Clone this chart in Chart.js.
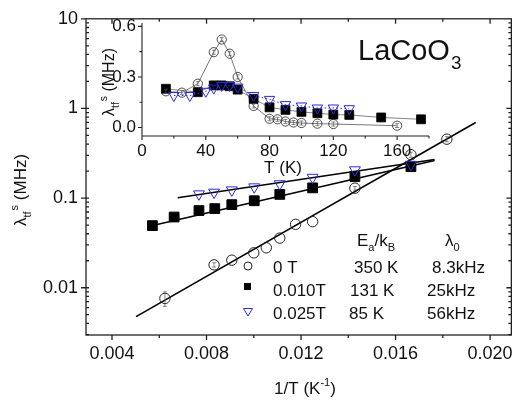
<!DOCTYPE html>
<html>
<head>
<meta charset="utf-8">
<script src="https://cdn.jsdelivr.net/npm/chart.js@4.4.1/dist/chart.umd.min.js"></script>
<style>
  body { margin: 0; background: #fff; }
  #wrap { position: relative; width: 521px; height: 407px; }
  #wrap canvas { position: absolute; left: 0; top: 0; }
</style>
</head>
<body>
<div id="wrap">
  <canvas id="main" width="521" height="407"></canvas>
  <canvas id="inset" width="521" height="407"></canvas>
</div>
<script>
// main plot: lambda vs 1/T (log)
let circX = [0.00624, 0.00832, 0.00907, 0.0100, 0.01053, 0.0111, 0.01177, 0.01249, 0.01428, 0.01665, 0.01817];
let circY = [0.0076, 0.018, 0.0203, 0.0245, 0.0279, 0.0358, 0.051, 0.0546, 0.129, 0.305, 0.454];
let circErr = [0.0014, 0.001, 0, 0, 0, 0, 0, 0, 0.006, 0.02, 0.03];
let sqX = [0.00571, 0.00663, 0.00768, 0.00835, 0.00907, 0.01002, 0.0111, 0.01249, 0.01428, 0.01665];
let sqY = [0.0493, 0.0615, 0.0726, 0.0763, 0.0845, 0.0934, 0.11, 0.13, 0.174, 0.224];
let triX = [0.00768, 0.00832, 0.00907, 0.01002, 0.0111, 0.01249, 0.01428, 0.01665];
let triY = [0.111, 0.116, 0.123, 0.133, 0.144, 0.17, 0.206, 0.237];

// Arrhenius fit lines (end points)
let fitCircX = [0.00502, 0.01939];
let fitCircY = [0.00476, 0.697];
let fitSqX = [0.00554, 0.01765];
let fitSqY = [0.0481, 0.262];
let fitTriX = [0.00678, 0.01765];
let fitTriY = [0.1008, 0.27];

let xTicks = [0.004, 0.008, 0.012, 0.016, 0.020];
let yTicks = [0.01, 0.1, 1, 10];

// inset: lambda vs T
let inCircT = [15, 25, 35, 45, 50, 55, 60, 70, 80, 85, 90, 95, 100, 110, 120, 160];
let inCircV = [0.215, 0.207, 0.26, 0.447, 0.522, 0.438, 0.30, 0.128, 0.052, 0.049, 0.036, 0.03, 0.027, 0.023, 0.021, 0.011];
let inSqT = [15, 35, 45, 50, 55, 60, 70, 80, 90, 100, 110, 120, 130, 150, 175];
let inSqV = [0.23, 0.21, 0.25, 0.25, 0.245, 0.225, 0.17, 0.12, 0.105, 0.093, 0.085, 0.077, 0.075, 0.06, 0.049];
let inTriT = [20, 30, 40, 45, 50, 55, 60, 70, 80, 90, 100, 110, 120, 130];
let inTriV = [0.19, 0.19, 0.215, 0.234, 0.25, 0.25, 0.24, 0.19, 0.167, 0.136, 0.128, 0.116, 0.116, 0.112];
let inXTicks = [0, 40, 80, 120, 160];
let inYTicks = [0, 0.3, 0.6];

const FONT = "'Liberation Sans', Arial, sans-serif";
const BLUE = "#2b2be0";
const INK = "#111";
Chart.defaults.font.family = FONT;

function pts(xs, ys) {
    return xs.map((x, i) => ({ x: x, y: ys[i] }));
}

/* ERROR BARS */
const errorBars = {
    id: "errorBars",
    afterDatasetsDraw(chart) {
        let ctx = chart.ctx;
        chart.data.datasets.forEach((ds, i) => {
            if (!ds.yErr) return;
            let meta = chart.getDatasetMeta(i);
            let ys = chart.scales[meta.yAxisID];
            ctx.save();
            ctx.strokeStyle = "#555";
            ctx.lineWidth = 0.7;
            meta.data.forEach((p, j) => {
                let e = ds.yErr[j];
                if (!e) return;
                let v = ds.data[j].y;
                let lo = Math.max(v - e, v * 0.05);
                let y1 = ys.getPixelForValue(v + e), y2 = ys.getPixelForValue(lo);
                ctx.beginPath();
                ctx.moveTo(p.x, y1); ctx.lineTo(p.x, y2);
                ctx.moveTo(p.x - 2, y1); ctx.lineTo(p.x + 2, y1);
                ctx.moveTo(p.x - 2, y2); ctx.lineTo(p.x + 2, y2);
                ctx.stroke();
            });
            ctx.restore();
        });
    }
};

/* helpers for text with sub/superscripts */
function richText(ctx, parts, x, y, size, align) {
    // parts: [text, kind, gap] kind: '' normal, 'sub', 'sup'
    let w = 0;
    parts.forEach(p => {
        ctx.font = (p[1] ? size * 0.65 : size) + "px " + FONT;
        w += ctx.measureText(p[0]).width + (p[2] || 0);
    });
    let cx = align === "center" ? x - w / 2 : x;
    ctx.textAlign = "left";
    ctx.textBaseline = "alphabetic";
    parts.forEach(p => {
        let s = p[1] ? size * 0.65 : size;
        ctx.font = s + "px " + FONT;
        let dy = p[1] === "sub" ? size * 0.3 : (p[1] === "sup" ? -size * 0.45 : 0);
        ctx.fillText(p[0], cx + (p[2] || 0), y + dy);
        cx += ctx.measureText(p[0]).width + (p[2] || 0);
    });
}

function tick(ctx, x1, y1, x2, y2) {
    ctx.moveTo(x1, y1); ctx.lineTo(x2, y2);
}

/* MAIN FRAME, TICKS, LABELS */
const mainDecor = {
    id: "mainDecor",
    afterDraw(chart) {
        let ctx = chart.ctx, a = chart.chartArea;
        let xs = chart.scales.x, ys = chart.scales.y;
        ctx.save();
        ctx.strokeStyle = "#222";
        ctx.lineWidth = 1.3;
        ctx.strokeRect(a.left, a.top, a.right - a.left, a.bottom - a.top);
        ctx.beginPath();
        for (let v = 0.004; v <= 0.0201; v += 0.002) {
            let px = xs.getPixelForValue(v);
            let major = Math.abs((v / 0.004) - Math.round(v / 0.004)) < 1e-6;
            let len = major ? 5 : 3;
            tick(ctx, px, a.bottom, px, a.bottom + len);
            tick(ctx, px, a.top, px, a.top + len);
        }
        for (let d = -3; d <= 0; d++) {
            for (let m = 1; m <= 9; m++) {
                let v = m * Math.pow(10, d);
                if (v < ys.min || v > ys.max) continue;
                let py = ys.getPixelForValue(v);
                if (m === 1) {
                    tick(ctx, a.left - 5, py, a.left + 3, py);
                    tick(ctx, a.right, py, a.right - 5, py);
                } else {
                    tick(ctx, a.left, py, a.left + 3, py);
                    tick(ctx, a.right, py, a.right - 3, py);
                }
            }
        }
        let py10 = ys.getPixelForValue(10);
        tick(ctx, a.left - 5, py10, a.left, py10);
        ctx.stroke();

        ctx.fillStyle = INK;
        // axis titles
        richText(ctx, [["1/T (K", ""], ["-1", "sup"], [")", ""]], 305, 394, 17, "center");
        ctx.save();
        ctx.translate(26, 190);
        ctx.rotate(-Math.PI / 2);
        richText(ctx, [["λ", ""], ["tf", "sub"], ["s", "sup", 1], [" (MHz)", ""]], 0, 0, 17, "center");
        ctx.restore();

        // compound label
        richText(ctx, [["LaCoO", ""], ["3", "sub", 1]], 358, 60, 29, "left");

        // fit table
        richText(ctx, [["E", ""], ["a", "sub"], ["/k", ""], ["B", "sub"]], 357, 246, 17, "left");
        richText(ctx, [["λ", ""], ["0", "sub"]], 445, 246, 17, "left");
        let rows = [["0 T", "350 K", "8.3kHz"], ["0.010T", "131 K", "25kHz"], ["0.025T", "85 K", "56kHz"]];
        let rowY = [273, 296, 319];
        let colX = [[273, 354, 432], [273, 350, 427], [273, 349, 427]];
        ctx.font = "17px " + FONT;
        rows.forEach((r, i) => {
            r.forEach((t, k) => ctx.fillText(t, colX[i][k], rowY[i]));
        });

        // legend symbols
        ctx.lineWidth = 1;
        ctx.strokeStyle = "#222";
        ctx.beginPath();
        ctx.arc(248, 266, 4, 0, Math.PI * 2);
        ctx.stroke();
        ctx.fillStyle = "#000";
        ctx.fillRect(244, 283, 7, 7);
        ctx.strokeStyle = BLUE;
        ctx.beginPath();
        ctx.moveTo(243.5, 308.5); ctx.lineTo(252.5, 308.5); ctx.lineTo(248, 316); ctx.closePath();
        ctx.stroke();
        ctx.restore();
    }
};

/* INSET AXES */
const insetDecor = {
    id: "insetDecor",
    afterDraw(chart) {
        let ctx = chart.ctx, a = chart.chartArea;
        let xs = chart.scales.x, ys = chart.scales.y;
        ctx.save();
        ctx.strokeStyle = "#222";
        ctx.lineWidth = 1.1;
        ctx.beginPath();
        tick(ctx, a.left, a.top, a.left, a.bottom);
        tick(ctx, a.left, a.bottom, a.right, a.bottom);
        for (let v = 0; v <= 180; v += 20) {
            let px = xs.getPixelForValue(v);
            tick(ctx, px, a.bottom, px, a.bottom + (v % 40 === 0 ? 4 : 2.5));
        }
        for (let v = 0; v <= 0.61; v += 0.15) {
            let py = ys.getPixelForValue(v);
            let major = Math.abs(v / 0.3 - Math.round(v / 0.3)) < 1e-6;
            tick(ctx, a.left, py, a.left - (major ? 4 : 2.5), py);
        }
        ctx.stroke();
        ctx.fillStyle = INK;
        richText(ctx, [["T (K)", ""]], 283, 173, 17, "center");
        ctx.save();
        ctx.translate(114, 82);
        ctx.rotate(-Math.PI / 2);
        richText(ctx, [["λ", ""], ["tf", "sub"], ["s", "sup", 1], [" (MHz)", ""]], 0, 0, 16, "center");
        ctx.restore();
        ctx.restore();
    }
};

/* MAIN CHART */
let mainChart = new Chart(document.getElementById("main"), {
    type: "scatter",
    data: {
        datasets: [
            { data: pts(triX, triY), pointStyle: "triangle", rotation: 180, pointRadius: 6.3,
              borderColor: BLUE, backgroundColor: "rgba(0,0,0,0)", borderWidth: 1, order: 0 },
            { data: pts(sqX, sqY), pointStyle: "rect", pointRadius: 6.9,
              borderColor: "#000", backgroundColor: "#000", borderWidth: 1, order: 1 },
            { data: pts(circX, circY), yErr: circErr, pointStyle: "circle", pointRadius: 5.2,
              borderColor: "#222", backgroundColor: "rgba(0,0,0,0)", borderWidth: 1, order: 2 },
            { data: pts(fitCircX, fitCircY), showLine: true, pointRadius: 0, borderColor: "#000", borderWidth: 1.6, order: 3 },
            { data: pts(fitSqX, fitSqY), showLine: true, pointRadius: 0, borderColor: "#000", borderWidth: 1.6, order: 3 },
            { data: pts(fitTriX, fitTriY), showLine: true, pointRadius: 0, borderColor: "#000", borderWidth: 1.6, order: 3 }
        ]
    },
    options: {
        responsive: false,
        animation: false,
        layout: { padding: { top: 13, right: 4, left: 0, bottom: 0 } },
        plugins: { legend: { display: false }, tooltip: { enabled: false } },
        scales: {
            x: {
                type: "linear", min: 0.0029, max: 0.0209,
                afterBuildTicks: s => { s.ticks = xTicks.map(v => ({ value: v })); },
                afterFit: s => { s.height = 72; },
                ticks: { callback: v => v.toFixed(3), font: { size: 18 }, color: INK, padding: 8, maxRotation: 0 },
                grid: { display: false, drawTicks: false },
                border: { display: false }
            },
            y: {
                type: "logarithmic", min: 0.00297, max: 10,
                afterBuildTicks: s => { s.ticks = yTicks.map(v => ({ value: v })); },
                afterFit: s => { s.width = 86; },
                ticks: { callback: v => String(v), font: { size: 18 }, color: INK, padding: 8 },
                grid: { display: false, drawTicks: false },
                border: { display: false }
            }
        }
    },
    plugins: [errorBars, mainDecor]
});

/* INSET CHART */
let insetChart = new Chart(document.getElementById("inset"), {
    type: "scatter",
    data: {
        datasets: [
            { data: pts(inTriT, inTriV), showLine: true, borderDash: [1.5, 2.5], pointStyle: "triangle", rotation: 180,
              pointRadius: 6, borderColor: BLUE, pointBorderColor: BLUE, backgroundColor: "rgba(0,0,0,0)",
              borderWidth: 1, order: 0 },
            { data: pts(inSqT, inSqV), showLine: true, pointStyle: "rect", pointRadius: 6.3,
              borderColor: "#666", pointBorderColor: "#000", pointBackgroundColor: "#000", borderWidth: 0.8, order: 1 },
            { data: pts(inCircT, inCircV), yErr: inCircT.map(() => 0.012), showLine: true, pointStyle: "circle", pointRadius: 4.6,
              borderColor: "#555", pointBorderColor: "#222", backgroundColor: "rgba(0,0,0,0)", borderWidth: 0.8, order: 2 }
        ]
    },
    options: {
        responsive: false,
        animation: false,
        layout: { padding: { top: 23, right: 92, left: 0, bottom: 0 } },
        plugins: { legend: { display: false }, tooltip: { enabled: false } },
        scales: {
            x: {
                type: "linear", min: 0, max: 180,
                afterBuildTicks: s => { s.ticks = inXTicks.map(v => ({ value: v })); },
                afterFit: s => { s.height = 271; },
                ticks: { font: { size: 17 }, color: INK, padding: 5, maxRotation: 0 },
                grid: { display: false, drawTicks: false },
                border: { display: false }
            },
            y: {
                type: "linear", min: -0.05, max: 0.62,
                afterBuildTicks: s => { s.ticks = inYTicks.map(v => ({ value: v })); },
                afterFit: s => { s.width = 142; },
                ticks: { callback: v => v.toFixed(1), font: { size: 17 }, color: INK, padding: 6 },
                grid: { display: false, drawTicks: false },
                border: { display: false }
            }
        }
    },
    plugins: [errorBars, insetDecor]
});
</script>
</body>
</html>
